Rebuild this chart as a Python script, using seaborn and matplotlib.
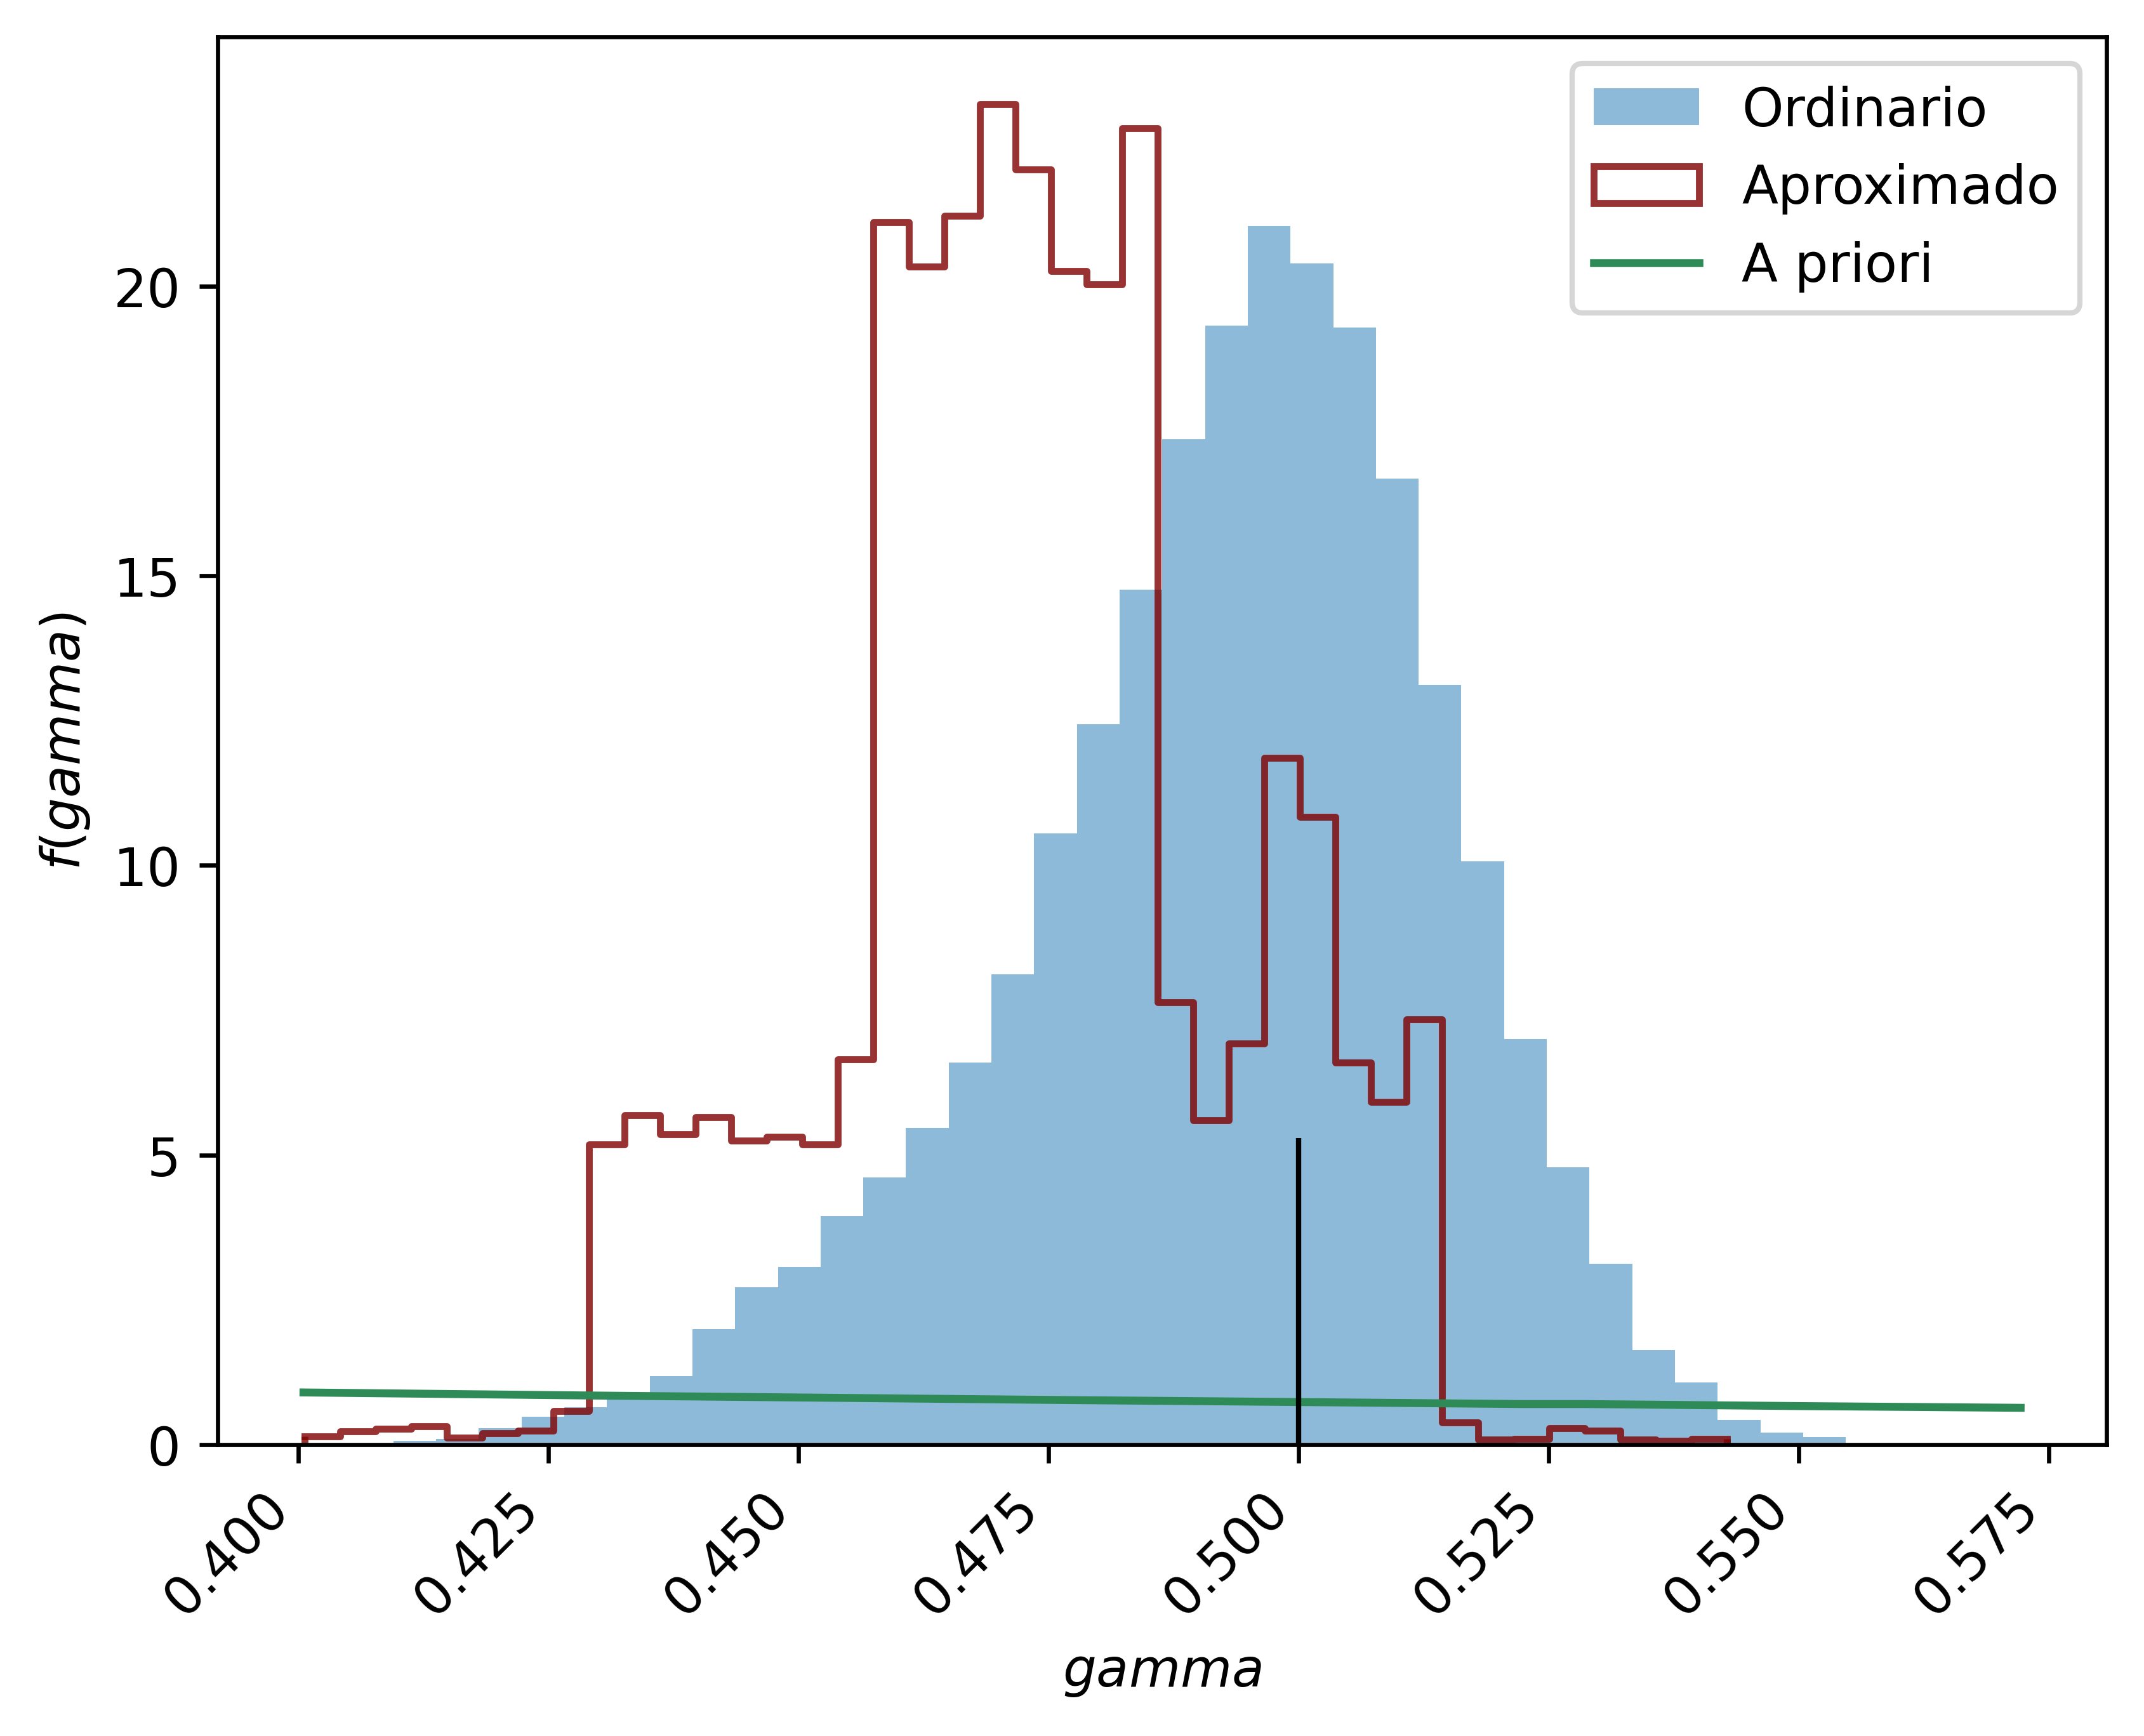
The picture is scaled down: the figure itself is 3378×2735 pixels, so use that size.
"""
Posterior of gamma: ordinary vs approximate sampler, with the prior on top.
Heights are densities read off the original figure.
"""

import numpy as np
import pandas as pd
import matplotlib
matplotlib.use("Agg")
import matplotlib.pyplot as plt
from matplotlib.patches import Patch
from matplotlib.lines import Line2D
import seaborn as sns

# --- "Ordinario" histogram (density per bin) ---
ord_lo, ord_hi = 0.40949, 0.55472
ord_heights = [
    0.066, 0.10, 0.285, 0.48, 0.65, 0.86, 1.18, 1.99, 2.72, 3.07,
    3.94, 4.61, 5.47, 6.60, 8.12, 10.55, 12.44, 14.76, 17.35, 19.32,
    21.04, 20.39, 19.28, 16.67, 13.11, 10.07, 7.00, 4.79, 3.12, 1.63,
    1.07, 0.43, 0.21, 0.13,
]

# --- "Aproximado" histogram (density per bin) ---
apr_lo, apr_hi = 0.40060, 0.54282
apr_heights = [
    0.14, 0.23, 0.27, 0.32, 0.12, 0.20, 0.24, 0.58, 5.18, 5.68,
    5.36, 5.65, 5.25, 5.31, 5.18, 6.65, 21.10, 20.33, 21.21, 23.14,
    22.01, 20.26, 20.03, 22.72, 7.64, 5.60, 6.92, 11.85, 10.84, 6.60,
    5.92, 7.34, 0.38, 0.09, 0.10, 0.28, 0.24, 0.09, 0.07, 0.10,
]

# --- prior density, read at a few points ---
prior_x = [0.4005, 0.43, 0.46, 0.478, 0.49, 0.5223, 0.5286, 0.55, 0.5722]
prior_y = [0.900, 0.846, 0.797, 0.767, 0.750, 0.700, 0.700, 0.665, 0.635]

# true value marker
true_gamma = 0.5
true_height = 5.29

APR_COLOR = "maroon"
APR_ALPHA = 0.8
APR_LW = 1.3


def binned_frame(lo, hi, heights):
    edges = np.linspace(lo, hi, len(heights) + 1)
    centers = (edges[:-1] + edges[1:]) / 2
    return list(edges), pd.DataFrame({"gamma": centers, "dens": heights})


def main():
    fig = plt.figure(figsize=(5.63, 4.56), dpi=600)
    ax = fig.add_axes([0.1015, 0.1678, 0.8810, 0.8105])

    ord_edges, ord_df = binned_frame(ord_lo, ord_hi, ord_heights)
    apr_edges, apr_df = binned_frame(apr_lo, apr_hi, apr_heights)

    sns.histplot(data=ord_df, x="gamma", weights="dens", bins=ord_edges,
                 stat="count", color="tab:blue", alpha=0.5, linewidth=0,
                 ax=ax)
    sns.histplot(data=apr_df, x="gamma", weights="dens", bins=apr_edges,
                 stat="count", element="step", fill=False, color=APR_COLOR,
                 alpha=APR_ALPHA, linewidth=APR_LW, ax=ax)
    # seaborn's open step leaves out the drops to zero at both ends
    ax.vlines([apr_edges[0], apr_edges[-1]], 0,
              [apr_heights[0], apr_heights[-1]],
              color=APR_COLOR, alpha=APR_ALPHA, linewidth=APR_LW)
    sns.lineplot(x=prior_x, y=prior_y, color="seagreen", linewidth=1.5,
                 ax=ax)
    ax.vlines(true_gamma, 0, true_height, color="black", linewidth=1)

    handles = [
        Patch(facecolor="tab:blue", alpha=0.5, linewidth=0, label="Ordinario"),
        Patch(facecolor="none", edgecolor=APR_COLOR, alpha=APR_ALPHA,
              linewidth=APR_LW, label="Aproximado"),
        Line2D([], [], color="seagreen", linewidth=1.5, label="A priori"),
    ]
    ax.legend(handles=handles, loc="upper right")

    ax.set_xticks([0.400, 0.425, 0.450, 0.475, 0.500, 0.525, 0.550, 0.575])
    plt.setp(ax.get_xticklabels(), rotation=45, ha="right")
    ax.set_xlabel(r"$gamma$")
    ax.set_ylabel(r"$f(gamma)$")

    fig.savefig("out.png", dpi=600)
    plt.close(fig)


if __name__ == "__main__":
    main()
